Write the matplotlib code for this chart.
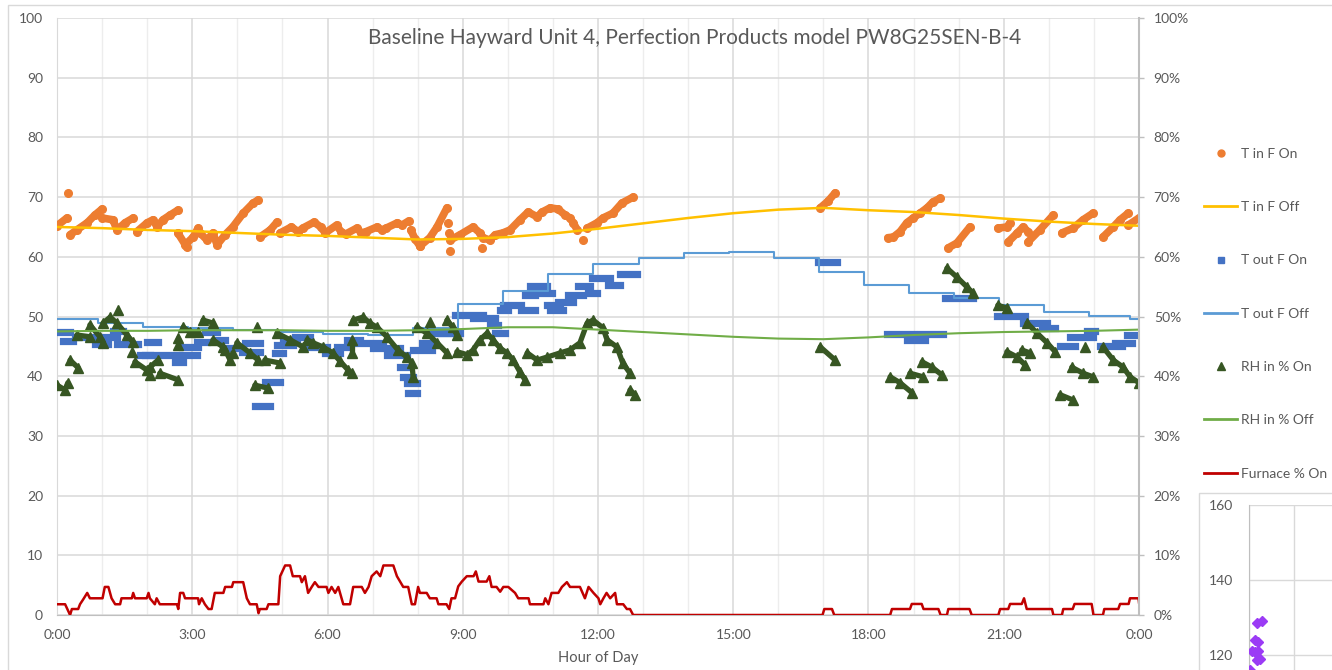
import matplotlib
matplotlib.use('Agg')
import matplotlib.pyplot as plt
from matplotlib.lines import Line2D
from matplotlib.patches import Rectangle
from matplotlib.ticker import FuncFormatter, MultipleLocator, FixedLocator

plt.rcParams['font.family'] = ['Lato', 'DejaVu Sans']

# ---------------- data ----------------
title = "Baseline Hayward Unit 4, Perfection Products model PW8G25SEN-B-4"
xlabel = "Hour of Day"
hour_ticks = [0, 3, 6, 9, 12, 15, 18, 21, 24]
hour_labels = ["0:00", "3:00", "6:00", "9:00", "12:00", "15:00", "18:00", "21:00", "0:00"]
legend_labels = ["T in F On", "T in F Off", "T out F On", "T out F Off",
                 "RH in % On", "RH in % Off", "Furnace % On"]

# T in F On (chains of dots): hours / deg F
tin_on_t = [
    [0.0, 0.22], [0.25],
    [0.29, 0.44, 0.67, 0.84, 1.0],
    [1.0, 1.24, 1.33, 1.51, 1.69],
    [1.77, 2.0, 2.13, 2.22, 2.35, 2.51, 2.68],
    [2.68, 2.88],
    [2.84, 3.02, 3.13],
    [3.17, 3.33, 3.46, 3.55, 3.73, 3.9, 4.13, 4.35, 4.46],
    [4.5, 4.73, 4.88],
    [4.95, 5.2, 5.35, 5.45, 5.7, 5.85, 5.95, 6.2, 6.3, 6.4, 6.65, 6.75, 6.85, 7.1, 7.2, 7.3, 7.55, 7.65, 7.8],
    [7.85, 7.94, 8.05],
    [8.05, 8.27, 8.43, 8.65],
    [8.67], [8.70], [8.72],
    [8.72, 8.94, 9.23, 9.38, 9.45, 9.6, 9.72, 9.89, 10.05, 10.27, 10.45, 10.65, 10.76, 10.94, 11.11, 11.27, 11.38, 11.45, 11.54],
    [9.43], [11.67],
    [11.76, 11.98, 12.11, 12.33, 12.53, 12.78],
    [16.93, 17.1, 17.26],
    [18.43, 18.55, 18.7, 18.85, 18.99, 19.14, 19.3, 19.43, 19.59],
    [19.77, 19.96, 20.25],
    [20.87, 21.07, 21.14],
    [21.1, 21.3, 21.43, 21.54],
    [21.54, 21.8, 22.1],
    [22.29, 22.54, 22.76, 22.98],
    [23.2, 23.43, 23.58, 23.76],
    [23.76, 24.0],
]
tin_on_v = [
    [65.2, 66.5], [70.7],
    [63.7, 64.5, 65.7, 67.0, 68.0],
    [66.5, 66.2, 64.5, 65.7, 66.5],
    [64.2, 65.7, 66.2, 65.0, 66.2, 67.0, 67.8],
    [64.0, 61.6],
    [62.0, 63.3, 64.8],
    [64.0, 62.8, 64.0, 62.0, 63.7, 65.0, 67.3, 69.0, 69.5],
    [63.3, 64.5, 65.8],
    [64.0, 65.0, 64.2, 64.8, 65.8, 65.0, 64.0, 65.3, 64.2, 63.8, 64.8, 64.0, 64.2, 65.0, 64.5, 64.8, 65.7, 65.3, 66.0],
    [64.5, 63.0, 61.8],
    [61.8, 63.2, 65.0, 68.2],
    [65.7], [64.0], [61.0],
    [62.8, 63.7, 65.0, 64.0, 63.2, 62.8, 63.7, 64.0, 64.5, 66.2, 67.5, 66.7, 67.5, 68.2, 68.0, 67.0, 66.5, 65.7, 64.5],
    [61.5], [62.8],
    [64.8, 65.7, 66.5, 67.3, 69.0, 70.0],
    [68.2, 69.3, 70.7],
    [63.2, 63.3, 64.2, 65.7, 66.5, 67.3, 68.2, 69.2, 69.8],
    [61.5, 62.3, 65.0],
    [64.8, 65.0, 65.7],
    [62.5, 64.0, 65.0, 64.2],
    [62.5, 64.5, 67.0],
    [64.0, 64.8, 66.2, 67.3],
    [63.3, 65.0, 66.2, 67.3],
    [65.3, 66.5],
]

# T in F Off
tin_off_t = list(range(25))
tin_off_v = [65.0, 64.8, 64.5, 64.3, 64.0, 63.7, 63.5, 63.2, 62.9, 63.0, 63.3, 63.9, 64.7,
             65.6, 66.5, 67.3, 67.9, 68.2, 67.8, 67.5, 67.0, 66.4, 65.9, 65.5, 65.2]

# T out F On (runs of squares): start hour, end hour, deg F
tout_on_start = [0.0, 0.13, 0.40, 0.85, 1.07, 1.25, 1.33, 1.84, 2.00, 1.95, 2.62, 2.77, 3.10, 3.28,
                 3.50, 3.68, 4.10, 4.17, 4.39, 4.61, 4.84, 4.88, 5.01, 5.28, 5.55, 5.94, 6.21, 6.43,
                 6.65, 7.00, 7.32, 7.60, 7.68, 7.76, 7.79, 7.90, 8.10, 8.27, 8.50, 8.83, 9.23, 9.60,
                 9.72, 9.83, 9.90, 10.30, 10.38, 10.49, 10.76, 10.87, 10.94, 11.11, 11.34, 11.56,
                 11.78, 11.87, 12.22, 12.49, 16.88, 18.40, 18.85, 19.14, 19.70, 20.85, 21.43, 21.85,
                 22.25, 22.47, 22.85, 23.14, 23.47, 23.74]
tout_on_end = [0.29, 0.35, 0.90, 1.13, 1.33, 1.47, 1.80, 2.06, 2.24, 3.10, 2.80, 3.13, 3.33, 3.55,
               3.73, 4.13, 4.50, 4.50, 4.72, 4.95, 5.01, 5.24, 5.32, 5.61, 5.99, 6.28, 6.50, 6.72,
               7.23, 7.60, 7.76, 7.76, 7.90, 7.98, 7.98, 8.32, 8.32, 8.72, 8.94, 9.45, 9.72, 9.78,
               9.94, 10.00, 10.30, 10.60, 10.60, 10.87, 10.98, 11.16, 11.22, 11.45, 11.67, 11.82,
               11.98, 12.27, 12.49, 12.87, 17.30, 18.99, 19.25, 19.66, 20.32, 21.47, 21.96, 22.14,
               22.58, 22.98, 23.03, 23.62, 23.85, 24.00]
tout_on_v = [47.4, 45.9, 46.6, 45.4, 46.6, 47.6, 45.4, 43.6, 45.7, 43.6, 42.4, 44.9, 45.7, 47.4,
             46.1, 44.7, 44.1, 45.6, 35.0, 39.0, 43.9, 45.2, 46.1, 46.6, 44.9, 43.9, 44.9, 46.1,
             45.6, 44.7, 43.6, 41.5, 39.9, 38.9, 37.2, 44.4, 45.6, 47.2, 47.2, 50.2, 49.7, 48.6,
             47.2, 51.1, 51.9, 51.1, 53.6, 55.1, 53.9, 51.9, 51.1, 52.4, 53.6, 55.1,
             53.9, 56.4, 55.3, 57.1, 59.1, 47.1, 46.1, 47.1, 53.1, 50.1, 48.9, 48.1,
             45.1, 46.5, 47.6, 45.1, 45.6, 46.9]

# T out F Off (step line)
tout_off_t = [0, 0.9, 1.9, 2.9, 3.9, 4.9, 5.9, 6.9, 7.9, 8.9, 9.9, 10.9, 11.9, 12.9, 13.9,
              14.9, 15.9, 16.9, 17.9, 18.9, 19.9, 20.9, 21.9, 22.9, 23.8, 24.0]
tout_off_v = [49.5, 48.9, 48.2, 48.1, 47.7, 47.4, 47.1, 46.9, 48.1, 52.1, 54.3, 57.1, 58.8, 59.8,
              60.6, 60.8, 59.8, 57.5, 55.3, 53.9, 53.1, 51.9, 50.8, 50.1, 49.6, 49.6]

# RH in % On (chains of triangles)
rh_on_t = [
    [0.0, 0.18, 0.24], [0.29, 0.47], [0.44, 0.73], [0.73, 0.95, 1.02],
    [1.02, 1.18, 1.33, 1.55, 1.69], [1.35], [1.66], [1.73, 2.0, 2.06], [2.06, 2.24],
    [2.28, 2.68], [2.68, 2.68], [2.8, 2.95, 3.13], [3.24, 3.46], [3.46, 3.68],
    [3.73, 3.84, 3.9], [3.99, 4.28, 4.46], [4.44], [4.39, 4.68], [4.61, 4.95],
    [4.88, 5.17, 5.46], [5.55, 5.68, 5.9, 6.12, 6.28, 6.46, 6.54],
    [6.57, 6.79, 6.94, 7.1, 7.32, 7.56, 7.76, 7.87, 7.9], [6.54, 6.54],
    [7.98, 8.21, 8.43, 8.65], [8.27], [8.65, 8.78, 8.87],
    [8.87, 9.1, 9.23, 9.38, 9.54, 9.67, 9.83, 9.98, 10.12, 10.27, 10.38],
    [10.43, 10.65, 10.87, 11.16, 11.38, 11.6, 11.76, 11.89, 12.11, 12.2, 12.42, 12.55, 12.71],
    [12.71, 12.82], [16.93, 17.26], [18.48, 18.7, 18.97], [18.92, 19.21],
    [19.19, 19.41, 19.63], [19.74, 19.96, 20.19, 20.32], [20.87, 21.07],
    [21.52, 21.74, 21.96, 22.14], [21.07, 21.3, 21.47], [21.4, 21.58], [22.25, 22.54],
    [22.51, 22.76, 22.98], [22.81], [23.2, 23.43, 23.65, 23.8, 24.0],
]
rh_on_v = [
    [38.5, 37.7, 38.9], [42.7, 41.4], [46.9, 46.6], [48.6, 46.6, 45.6],
    [48.9, 49.9, 48.9, 46.9, 45.7], [51.1], [44.1], [42.4, 41.0, 40.2], [41.5, 42.7],
    [40.5, 39.4], [46.4, 45.2], [48.2, 47.4, 47.4], [49.4, 48.9], [46.1, 44.9],
    [44.4, 42.7, 43.9], [45.6, 43.9, 42.7], [48.2], [38.5, 38.0], [42.7, 42.2],
    [47.2, 46.1, 44.9], [46.1, 45.6, 44.9, 43.9, 42.5, 41.0, 40.5],
    [49.4, 49.9, 48.9, 48.2, 46.6, 44.4, 43.2, 42.2, 39.9], [46.1, 43.9],
    [48.2, 47.2, 45.6, 43.9], [49.1], [49.4, 48.2, 46.9],
    [44.1, 43.6, 44.4, 46.1, 47.2, 46.1, 44.7, 43.9, 42.7, 40.7, 39.4],
    [43.9, 42.7, 43.2, 43.9, 44.4, 45.6, 48.9, 49.4, 48.1, 46.1, 44.9, 42.2, 40.5],
    [37.7, 36.9], [44.9, 42.7], [39.9, 38.9, 37.2], [40.5, 39.9],
    [42.4, 41.5, 40.2], [58.1, 56.6, 54.9, 53.9], [51.9, 51.4],
    [48.9, 47.2, 45.6, 44.1], [44.1, 43.2, 41.9], [44.4, 43.9], [36.9, 36.0],
    [41.5, 40.5, 39.9], [44.9], [44.9, 42.7, 41.5, 39.9, 38.9],
]

# RH in % Off
rh_off_t = list(range(25))
rh_off_v = [47.5, 47.6, 47.6, 47.7, 47.7, 47.7, 47.6, 47.6, 47.7, 47.9, 48.2, 48.2, 47.8,
            47.4, 47.0, 46.6, 46.3, 46.2, 46.5, 46.9, 47.2, 47.4, 47.5, 47.6, 47.8]

# Furnace % On
furn_t = [0.0, 0.18, 0.29, 0.33, 0.47, 0.51, 0.58, 0.67, 0.73, 1.01, 1.06, 1.14, 1.21, 1.29,
          1.40, 1.43, 1.66, 1.69, 1.73, 1.99, 2.03, 2.06, 2.17, 2.21, 2.28, 2.66, 2.69, 2.73,
          2.80, 2.84, 3.13, 3.15, 3.21, 3.28, 3.36, 3.43, 3.50, 3.69, 3.73, 3.88, 3.91, 4.13,
          4.21, 4.28, 4.43, 4.47, 4.50, 4.65, 4.69, 4.91, 4.95, 5.06, 5.17, 5.23, 5.39, 5.43,
          5.50, 5.57, 5.65, 5.72, 5.80, 5.98, 6.02, 6.09, 6.17, 6.24, 6.35, 6.50, 6.57, 6.76,
          6.83, 6.91, 6.98, 7.09, 7.17, 7.24, 7.46, 7.54, 7.68, 7.79, 7.87, 7.94, 8.01, 8.05,
          8.20, 8.27, 8.42, 8.46, 8.64, 8.70, 8.75, 8.83, 8.90, 8.98, 9.09, 9.24, 9.29, 9.35,
          9.53, 9.59, 9.64, 9.75, 9.83, 9.90, 10.01, 10.16, 10.23, 10.46, 10.49, 10.79, 10.83,
          10.90, 10.97, 11.12, 11.20, 11.31, 11.38, 11.60, 11.71, 11.79, 11.90, 12.01, 12.05,
          12.12, 12.19, 12.27, 12.38, 12.42, 12.56, 12.64, 12.71, 12.78, 16.98, 17.02, 17.19,
          17.24, 18.48, 18.52, 18.92, 18.96, 19.18, 19.22, 19.55, 19.60, 19.74, 19.77, 20.24,
          20.29, 20.88, 20.92, 21.10, 21.14, 21.40, 21.45, 21.51, 22.07, 22.10, 22.29, 22.32,
          22.53, 22.57, 22.95, 22.99, 23.20, 23.23, 23.54, 23.58, 23.77, 23.80, 23.99, 24.0]
furn_v = [1.8, 1.8, 0.0, 1.0, 1.0, 1.8, 2.6, 3.7, 2.8, 2.8, 4.7, 4.7, 2.8, 1.8,
          1.8, 2.8, 2.8, 3.7, 2.8, 2.8, 3.7, 2.8, 1.8, 2.8, 1.8, 1.8, 1.0, 3.7,
          3.7, 2.8, 2.8, 1.8, 2.8, 1.8, 1.0, 1.0, 3.7, 3.7, 4.7, 4.7, 5.5, 5.5,
          2.8, 1.8, 1.8, 0.3, 1.0, 1.0, 1.8, 1.8, 6.5, 8.3, 8.3, 6.5, 6.5, 5.5,
          6.5, 3.7, 4.7, 5.5, 4.7, 4.7, 3.7, 4.7, 3.7, 4.7, 1.8, 1.8, 4.7, 4.7,
          3.7, 4.7, 6.5, 7.3, 6.5, 8.3, 8.3, 6.5, 4.7, 4.7, 1.8, 1.8, 4.7, 3.7,
          3.7, 2.8, 2.8, 1.8, 1.8, 1.0, 2.8, 2.8, 4.8, 5.6, 6.5, 6.5, 7.3, 5.6,
          5.6, 6.5, 4.7, 4.7, 3.9, 4.7, 4.7, 3.7, 2.8, 2.8, 1.8, 1.8, 2.8,
          1.8, 3.7, 3.7, 4.7, 5.5, 4.7, 4.7, 2.8, 4.7, 3.7, 2.8, 1.8,
          2.8, 3.7, 2.8, 3.7, 1.8, 1.8, 1.0, 1.0, 0.0, 0.0, 1.0, 1.0,
          0.0, 0.0, 1.0, 1.0, 1.85, 1.85, 1.0, 1.0, 0.0, 0.0, 1.0, 1.0,
          0.0, 0.0, 1.0, 1.0, 1.85, 1.85, 2.8, 1.0, 1.0, 0.0, 0.0, 1.0,
          1.0, 1.85, 1.85, 0.0, 0.0, 1.0, 1.0, 1.85, 1.85, 2.8, 2.8, 2.1]

# Overlapping chart (bottom-right), purple diamonds
inset_x = [0.18, 0.29, 0.13, 0.20, 0.07, 0.13, 0.20, 0.18, 0.24, 0.02]
inset_y = [128.5, 129.1, 124.0, 123.5, 121.1, 120.8, 121.0, 118.7, 119.0, 116.0]
inset_ticks = [120, 140, 160]

# ---------------- styling ----------------
TXT = '#595959'
C_TIN_ON = '#ED7D31'
C_TIN_OFF = '#FFC000'
C_TOUT_ON = '#4472C4'
C_TOUT_OFF = '#5B9BD5'
C_RH_ON = '#375623'
C_RH_OFF = '#70AD47'
C_FURN = '#C00000'

W, H = 1332, 670
def fx(px):
    return px / W
def fy(py):
    return 1 - py / H

fig = plt.figure(figsize=(W / 100, H / 100), dpi=100)

border = Rectangle((fx(8), fy(720)), fx(1420) - fx(8), fy(5) - fy(720),
                   transform=fig.transFigure, fill=False, edgecolor='#D9D9D9', lw=1, zorder=0)
fig.add_artist(border)

ax = fig.add_axes([fx(57), fy(615), fx(1139) - fx(57), fy(18) - fy(615)])
ax.set_xlim(0, 24)
ax.set_ylim(0, 100)
ax.xaxis.set_major_locator(FixedLocator(hour_ticks))
ax.set_xticklabels(hour_labels)
ax.xaxis.set_minor_locator(MultipleLocator(1))
ax.yaxis.set_major_locator(MultipleLocator(10))
ax.grid(which='major', color='#D9D9D9', lw=1.1)
ax.grid(which='minor', axis='x', color='#EDEDED', lw=1.0)
ax.set_axisbelow(True)
ax.tick_params(which='both', length=0, labelcolor=TXT, labelsize=10)
ax.tick_params(axis='y', pad=10)
ax.tick_params(axis='x', pad=10)
ax.spines['top'].set_visible(False)
ax.spines['right'].set_visible(False)
ax.spines['left'].set_color('#D9D9D9')
ax.spines['bottom'].set_color('#BFBFBF')

# T in F On
for t, v in zip(tin_on_t, tin_on_v):
    ax.plot(t, v, color=C_TIN_ON, lw=5.5, marker='o', ms=5.5,
            solid_capstyle='round', solid_joinstyle='round', zorder=3)
# T in F Off
ax.plot(tin_off_t, tin_off_v, color=C_TIN_OFF, lw=1.8, zorder=4)
# T out F On
hl = ax.hlines(tout_on_v, tout_on_start, tout_on_end, color=C_TOUT_ON, lw=5.2, zorder=5)
hl.set_capstyle('projecting')
# T out F Off
ax.step(tout_off_t, tout_off_v, where='post', color=C_TOUT_OFF, lw=1.5, zorder=6)
# RH in % On
for t, v in zip(rh_on_t, rh_on_v):
    ax.plot(t, v, color=C_RH_ON, lw=3.8, marker='^', ms=7,
            solid_capstyle='round', solid_joinstyle='round', zorder=7)
# RH in % Off
ax.plot(rh_off_t, rh_off_v, color=C_RH_OFF, lw=1.5, zorder=8)
# Furnace
ax.plot(furn_t, furn_v, color=C_FURN, lw=1.8, zorder=9)

ax2 = ax.twinx()
ax2.set_ylim(0, 100)
ax2.yaxis.set_major_locator(MultipleLocator(10))
ax2.yaxis.set_major_formatter(FuncFormatter(lambda v, p: f"{int(round(v))}%"))
ax2.tick_params(axis='y', length=3.6, width=1, color='#BFBFBF', labelcolor=TXT,
                labelsize=10, pad=7)
for s in ['top', 'left', 'bottom']:
    ax2.spines[s].set_visible(False)
ax2.spines['right'].set_color('#BFBFBF')
ax2.spines['right'].set_linewidth(1.5)

fig.text(fx(695), fy(38), title, ha='center', va='center', fontsize=15, color=TXT)
fig.text(fx(598), fy(658), xlabel, ha='center', va='center', fontsize=10.5, color=TXT)

handles = [
    Line2D([], [], ls='none', marker='o', color=C_TIN_ON, ms=5),
    Line2D([], [], color=C_TIN_OFF, lw=2),
    Line2D([], [], ls='none', marker='s', color=C_TOUT_ON, ms=5),
    Line2D([], [], color=C_TOUT_OFF, lw=2),
    Line2D([], [], ls='none', marker='^', color=C_RH_ON, ms=6),
    Line2D([], [], color=C_RH_OFF, lw=2),
    Line2D([], [], color=C_FURN, lw=2),
]
fig.legend(handles, legend_labels, loc='upper left', bbox_to_anchor=(fx(1204), fy(148)),
           frameon=False, fontsize=10, labelcolor=TXT, handlelength=2.4,
           handletextpad=0.25, labelspacing=2.97, borderpad=0, borderaxespad=0)

# overlapping second chart at bottom right
box = Rectangle((fx(1199), fy(720)), fx(1420) - fx(1199), fy(493) - fy(720),
                transform=fig.transFigure, facecolor='white', edgecolor='#D9D9D9', lw=1, zorder=2)
fig.add_artist(box)
inset = fig.add_axes([fx(1249), fy(730), fx(1420) - fx(1249), fy(505) - fy(730)], zorder=3)
inset.patch.set_visible(False)
inset.set_xlim(0, (1420 - 1249) / 45)
inset.set_ylim(100, 160)
inset.set_yticks(inset_ticks)
inset.xaxis.set_major_locator(MultipleLocator(1))
inset.set_xticklabels([])
inset.grid(color='#D9D9D9', lw=1.0)
inset.tick_params(length=0, labelcolor=TXT, labelsize=10, pad=11.5)
for s in ['top', 'right', 'bottom']:
    inset.spines[s].set_visible(False)
inset.spines['left'].set_color('#BFBFBF')
inset.plot(inset_x, inset_y, ls='none', marker='D', ms=5, color='#9B3BF5', zorder=4)

fig.savefig('out.png', dpi=100)
